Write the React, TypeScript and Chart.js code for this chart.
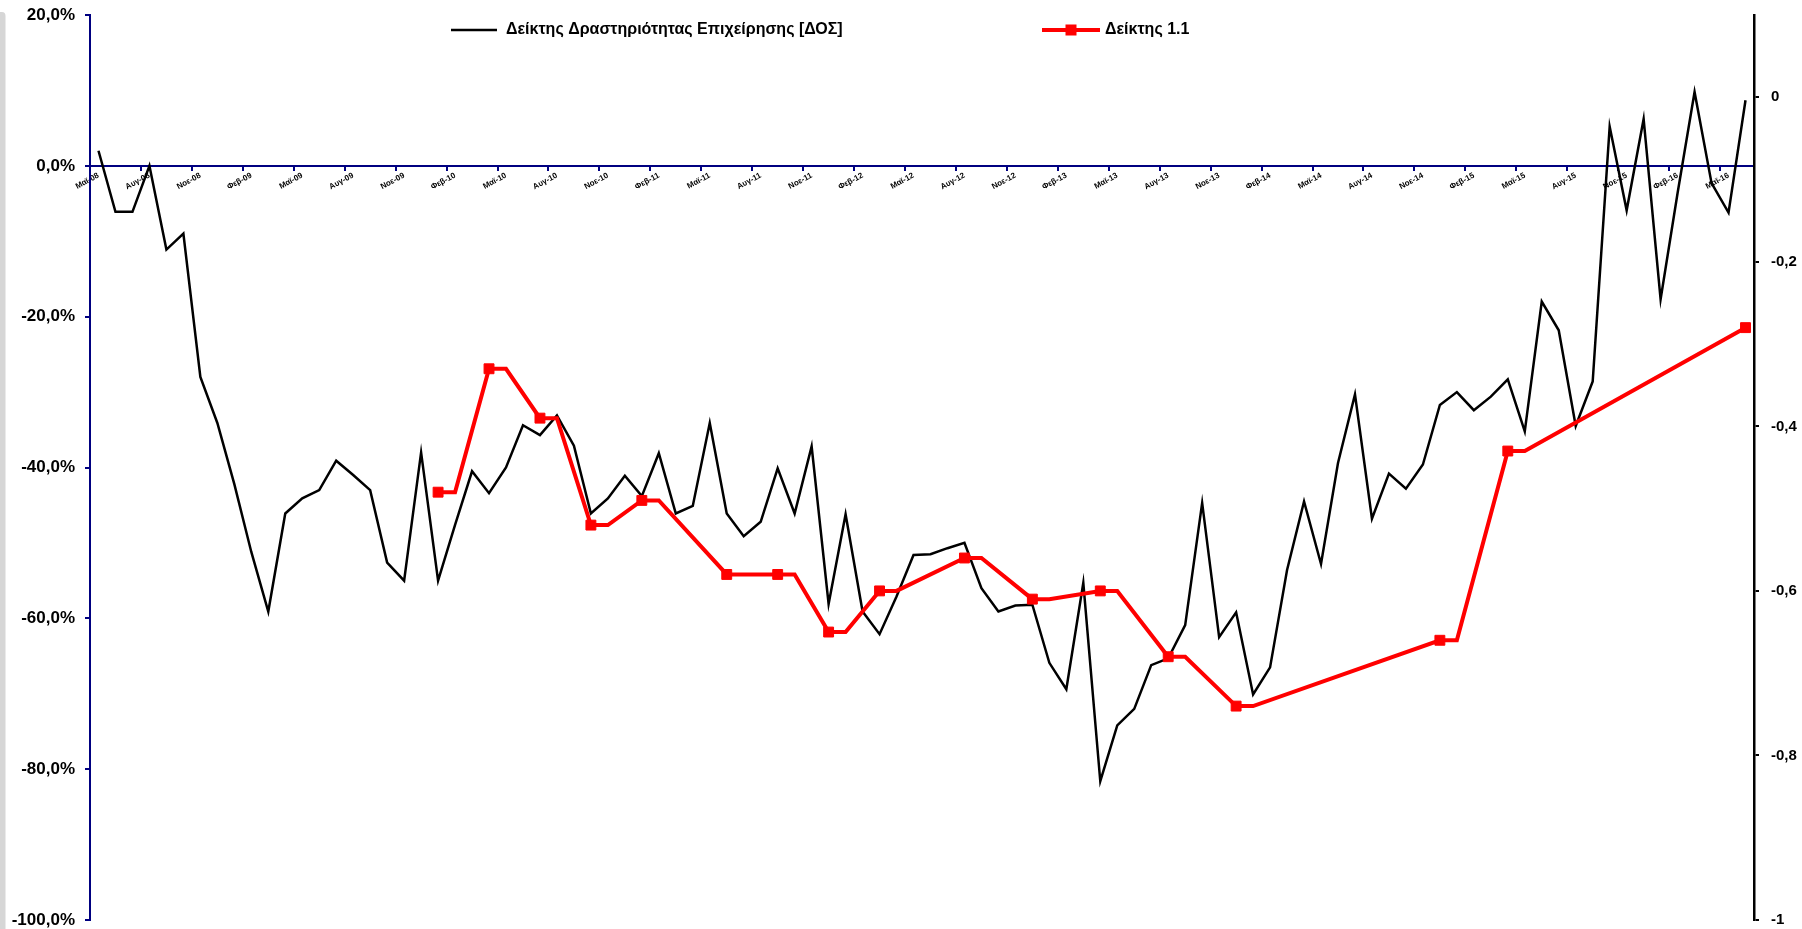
import React, { useEffect, useRef } from 'react';
import { Chart, registerables } from 'chart.js';

Chart.register(...registerables);

const _ = null;

const CATEGORIES = [
  'Μαϊ-08', 'Ιουν-08', 'Ιουλ-08', 'Αυγ-08', 'Σεπ-08', 'Οκτ-08', 'Νοε-08', 'Δεκ-08',
  'Ιαν-09', 'Φεβ-09', 'Μαρ-09', 'Απρ-09', 'Μαϊ-09', 'Ιουν-09', 'Ιουλ-09', 'Αυγ-09', 'Σεπ-09', 'Οκτ-09', 'Νοε-09', 'Δεκ-09',
  'Ιαν-10', 'Φεβ-10', 'Μαρ-10', 'Απρ-10', 'Μαϊ-10', 'Ιουν-10', 'Ιουλ-10', 'Αυγ-10', 'Σεπ-10', 'Οκτ-10', 'Νοε-10', 'Δεκ-10',
  'Ιαν-11', 'Φεβ-11', 'Μαρ-11', 'Απρ-11', 'Μαϊ-11', 'Ιουν-11', 'Ιουλ-11', 'Αυγ-11', 'Σεπ-11', 'Οκτ-11', 'Νοε-11', 'Δεκ-11',
  'Ιαν-12', 'Φεβ-12', 'Μαρ-12', 'Απρ-12', 'Μαϊ-12', 'Ιουν-12', 'Ιουλ-12', 'Αυγ-12', 'Σεπ-12', 'Οκτ-12', 'Νοε-12', 'Δεκ-12',
  'Ιαν-13', 'Φεβ-13', 'Μαρ-13', 'Απρ-13', 'Μαϊ-13', 'Ιουν-13', 'Ιουλ-13', 'Αυγ-13', 'Σεπ-13', 'Οκτ-13', 'Νοε-13', 'Δεκ-13',
  'Ιαν-14', 'Φεβ-14', 'Μαρ-14', 'Απρ-14', 'Μαϊ-14', 'Ιουν-14', 'Ιουλ-14', 'Αυγ-14', 'Σεπ-14', 'Οκτ-14', 'Νοε-14', 'Δεκ-14',
  'Ιαν-15', 'Φεβ-15', 'Μαρ-15', 'Απρ-15', 'Μαϊ-15', 'Ιουν-15', 'Ιουλ-15', 'Αυγ-15', 'Σεπ-15', 'Οκτ-15', 'Νοε-15', 'Δεκ-15',
  'Ιαν-16', 'Φεβ-16', 'Μαρ-16', 'Απρ-16', 'Μαϊ-16', 'Ιουν-16',
];

// Δείκτης Δραστηριότητας Επιχείρησης [ΔΟΣ] (%, left axis)
const DOS_INDEX = [
  2.0, -6.1, -6.1, 0.0, -11.1, -9.0, -28.0, -34.1,
  -42.2, -51.2, -59.1, -46.1, -44.1, -43.0, -39.1, -41.0, -43.0, -52.6, -55.0, -38.0,
  -55.0, -47.6, -40.5, -43.4, -40.0, -34.4, -35.7, -33.1, -37.1, -46.1, -44.1, -41.1,
  -43.8, -38.1, -46.1, -45.1, -34.1, -46.1, -49.1, -47.2, -40.1, -46.1, -37.2, -58.1,
  -46.2, -59.1, -62.1, -57.1, -51.6, -51.5, -50.7, -50.0, -56.0, -59.1, -58.3, -58.2,
  -65.9, -69.4, -55.3, -81.6, -74.2, -72.0, -66.2, -65.3, -60.9, -44.7, -62.5, -59.2,
  -70.1, -66.5, -53.6, -44.5, -52.8, -39.4, -30.3, -46.8, -40.8, -42.8, -39.6, -31.7,
  -30.0, -32.4, -30.6, -28.3, -35.2, -18.0, -21.8, -34.5, -28.6, 5.2, -5.9, 6.2,
  -17.7, -3.6, 9.8, -2.3, -6.2, 8.7,
];

// Δείκτης 1.1 (right axis)
const INDEX_1_1 = [
  _, _, _, _, _, _, _, _,
  _, _, _, _, _, _, _, _, _, _, _, _,
  -0.48, -0.48, _, -0.33, -0.33, _, -0.39, -0.39, _, -0.52, -0.52, _,
  -0.49, -0.49, _, _, _, -0.58, -0.58, _, -0.58, -0.58, _, -0.65,
  -0.65, _, -0.60, -0.60, _, _, _, -0.56, -0.56, _, _, -0.61,
  -0.61, _, _, -0.60, -0.60, _, _, -0.68, -0.68, _, _, -0.74,
  -0.74, _, _, _, _, _, _, _, _, _, _, -0.66,
  -0.66, _, _, -0.43, -0.43, _, _, _, _, _, _, _,
  _, _, _, _, _, -0.28,
];

const LEFT_TICKS = [-100, -80, -60, -40, -20, 0, 20];
const RIGHT_TICKS = [-1, -0.8, -0.6, -0.4, -0.2, 0];
const SERIES_NAMES = ['Δείκτης Δραστηριότητας Επιχείρησης [ΔΟΣ]', 'Δείκτης 1.1'];

const FONT_FAMILY = '"Liberation Sans", Arial, sans-serif';
const NAVY = '#000080';
const RED = '#ff0000';

const framePlugin = {
  id: 'frame',
  beforeDraw(chart: any) {
    const ctx = chart.ctx;
    ctx.save();
    ctx.fillStyle = '#d6d6d6';
    ctx.beginPath();
    ctx.moveTo(0, 12);
    ctx.lineTo(2, 12);
    ctx.quadraticCurveTo(5.5, 12, 5.5, 16);
    ctx.lineTo(5.5, chart.height);
    ctx.lineTo(0, chart.height);
    ctx.closePath();
    ctx.fill();
    ctx.restore();
  },
};

const legendPlugin = {
  id: 'customLegend',
  afterDraw(chart: any) {
    const ctx = chart.ctx;
    const y = 30;
    ctx.save();
    ctx.font = `bold 16px ${FONT_FAMILY}`;
    ctx.textBaseline = 'middle';
    ctx.textAlign = 'left';
    ctx.fillStyle = '#000';
    // black series
    ctx.strokeStyle = '#000';
    ctx.lineWidth = 2.5;
    ctx.beginPath();
    ctx.moveTo(451, y);
    ctx.lineTo(497, y);
    ctx.stroke();
    ctx.fillText(SERIES_NAMES[0], 506, y);
    // red series
    ctx.strokeStyle = RED;
    ctx.lineWidth = 4;
    ctx.beginPath();
    ctx.moveTo(1042, y);
    ctx.lineTo(1100, y);
    ctx.stroke();
    ctx.fillStyle = RED;
    ctx.fillRect(1071 - 5.5, y - 5.5, 11, 11);
    ctx.fillStyle = '#000';
    ctx.fillText(SERIES_NAMES[1], 1105, y);
    ctx.restore();
  },
};

const fmtLeft = (v: number) => v.toFixed(1).replace('.', ',') + '%';
const fmtRight = (v: number) => (Number.isInteger(v) ? String(v) : v.toFixed(1).replace('.', ','));

export default function App() {
  const ref = useRef<HTMLCanvasElement>(null);

  useEffect(() => {
    document.body.style.margin = '0';
    const canvas = ref.current;
    if (!canvas) return;
    const chart = new Chart(canvas, {
      type: 'line',
      data: {
        labels: CATEGORIES,
        datasets: [
          {
            label: SERIES_NAMES[0],
            data: DOS_INDEX,
            borderColor: '#000000',
            backgroundColor: '#000000',
            borderWidth: 2.5,
            pointRadius: 0,
            pointHoverRadius: 0,
            tension: 0,
            yAxisID: 'y',
            order: 2,
          },
          {
            label: SERIES_NAMES[1],
            data: INDEX_1_1,
            borderColor: RED,
            backgroundColor: RED,
            borderWidth: 4,
            spanGaps: true,
            tension: 0,
            pointStyle: 'rect',
            pointRadius: (c: any) => {
              const i = c.dataIndex;
              const d = c.dataset.data;
              if (d[i] === null || d[i] === undefined) return 0;
              return i === 0 || d[i - 1] === null ? 7 : 0;
            },
            pointHoverRadius: 0,
            pointBorderWidth: 1,
            pointBorderColor: RED,
            pointBackgroundColor: RED,
            yAxisID: 'y1',
            order: 1,
          },
        ],
      },
      options: {
        responsive: false,
        animation: false,
        devicePixelRatio: 1,
        events: [],
        layout: { padding: { top: 15, bottom: 9, left: 0, right: 0 } },
        plugins: {
          legend: { display: false },
          tooltip: { enabled: false },
          title: { display: false },
        },
        scales: {
          x: {
            type: 'category',
            position: { y: 0 } as any,
            offset: true,
            grid: {
              offset: true,
              drawOnChartArea: false,
              drawTicks: true,
              tickLength: 4,
              lineWidth: 2,
              color: (c: any) => (c.index % 3 === 0 ? NAVY : 'rgba(0,0,0,0)'),
            },
            border: { display: true, color: NAVY, width: 2 },
            ticks: {
              autoSkip: false,
              minRotation: 28,
              maxRotation: 28,
              padding: 1,
              color: '#000',
              font: { family: FONT_FAMILY, size: 8, weight: 'bold' },
              callback: (_v: any, i: number) => (i % 3 === 0 ? CATEGORIES[i] : ''),
            },
          },
          y: {
            type: 'linear',
            position: 'left',
            min: -100,
            max: 20,
            afterBuildTicks: (s: any) => {
              s.ticks = LEFT_TICKS.map((v) => ({ value: v }));
            },
            afterFit: (s: any) => {
              s.width = 90;
              s.paddingTop = 0;
              s.paddingBottom = 0;
            },
            grid: { drawOnChartArea: false, tickLength: 5, lineWidth: 2, color: NAVY },
            border: { display: true, color: NAVY, width: 2 },
            ticks: {
              padding: 10,
              color: '#000',
              font: { family: FONT_FAMILY, size: 17, weight: 'bold' },
              callback: (v: any) => fmtLeft(Number(v)),
            },
          },
          y1: {
            type: 'linear',
            position: 'right',
            min: -1,
            max: 0.1,
            afterBuildTicks: (s: any) => {
              s.ticks = RIGHT_TICKS.map((v) => ({ value: v }));
            },
            afterFit: (s: any) => {
              s.width = 48;
              s.paddingTop = 0;
              s.paddingBottom = 0;
            },
            grid: { drawOnChartArea: false, tickLength: 5, lineWidth: 2, color: '#000' },
            border: { display: true, color: '#000', width: 2.5 },
            ticks: {
              padding: 12,
              color: '#000',
              font: { family: FONT_FAMILY, size: 15, weight: 'bold' },
              callback: (v: any) => fmtRight(Number(v)),
            },
          },
        },
      } as any,
      plugins: [framePlugin, legendPlugin],
    });
    return () => chart.destroy();
  }, []);

  return (
    <div style={{ width: 1802, height: 929, position: 'relative', background: '#fff' }}>
      <canvas ref={ref} width={1802} height={929} style={{ display: 'block' }} />
    </div>
  );
}
